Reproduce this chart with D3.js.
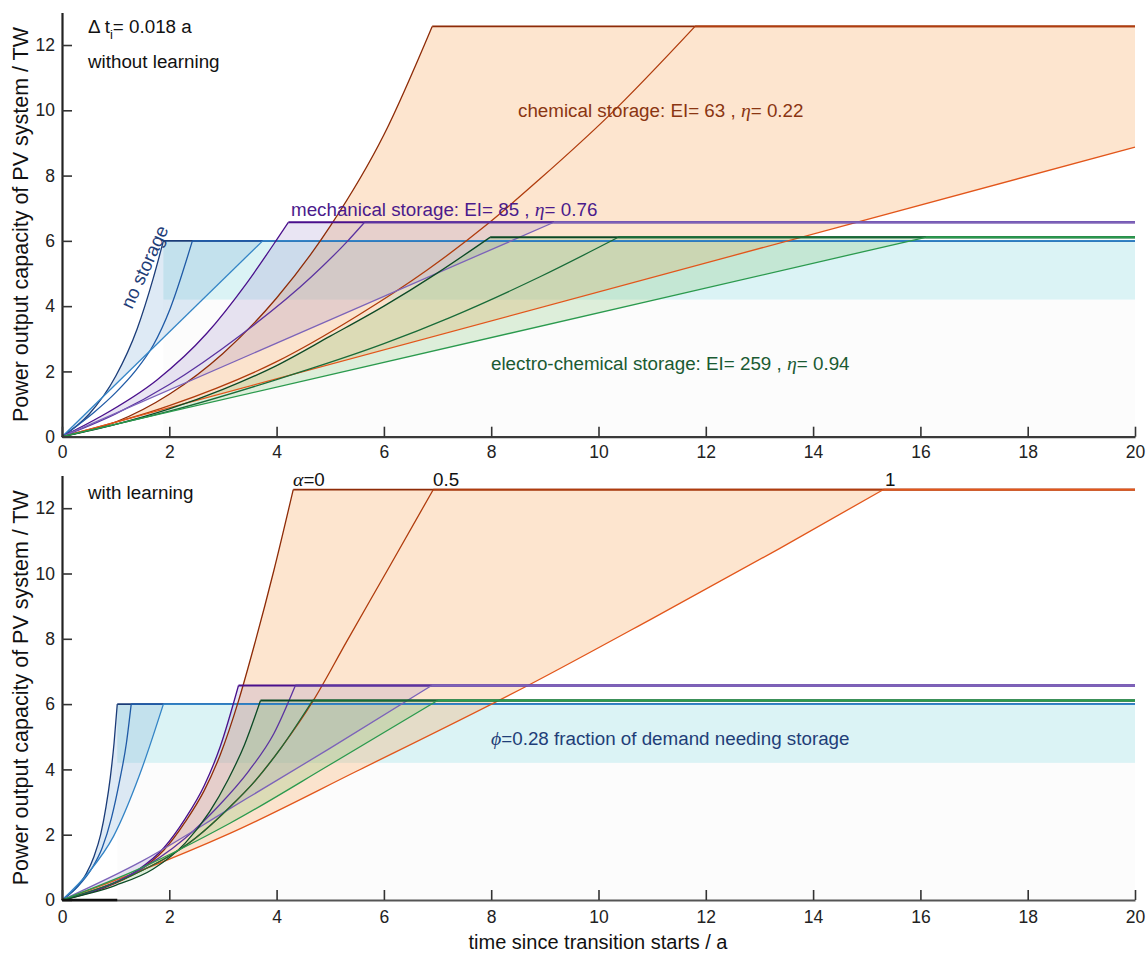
<!DOCTYPE html>
<html><head><meta charset="utf-8">
<script src="https://cdn.jsdelivr.net/npm/d3@7"></script>
<style>
html,body{margin:0;padding:0;background:#fff;}
text{font-family:"Liberation Sans",Arial,sans-serif;}
.greek{font-family:"Liberation Serif","DejaVu Serif",serif;font-style:italic;}
</style></head>
<body><svg id="chart" width="1148" height="955"></svg>
<script>
// ---------- data ----------
const xTicks = [0,2,4,6,8,10,12,14,16,18,20];
const yTicks = [0,2,4,6,8,10,12];
const plateaus = {noStorage:6.0, mechanical:6.57, electro:6.11, chemical:12.57};
const bandLow = 4.2, bandHigh = 6.0;

// top panel: without learning  [time (a), capacity (TW)]
const topNo0   = [[0,0],[0.5,0.68],[1.0,1.85],[1.4,3.3],[1.7,4.85],[1.89,6.0]];
const topNo05  = [[0,0],[0.6,0.75],[1.0,1.35],[1.36,2.0],[1.7,2.8],[2.01,3.9],[2.43,6.0]];
const topNo1   = [[0,0],[3.74,6.0]];
const topMech0 = [[0,0],[0.71,0.61],[1.77,1.74],[2.70,3.17],[3.44,4.7],[4.0,6.03],[4.22,6.57]];
const topMech05= [[0,0],[1.0,0.7],[2.0,1.6],[3.32,3.1],[4.65,4.9],[5.31,5.97],[5.64,6.57]];
const topMech1 = [[0,0],[9.17,6.57]];
const topChem0 = [[0,0],[1,0.45],[2,1.3],[3,2.55],[4,4.25],[5,6.45],[6,9.25],[6.9,12.57]];
const topChem05= [[0,0],[2,0.95],[4,2.3],[5.5,3.7],[6.8,5.1],[7.92,6.5],[8.91,7.9],[10.21,9.86],[11.8,12.57]];
const topChem1 = [[0,0],[20,8.87]];
const topElec0 = [[0,0],[1,0.38],[2,0.85],[3,1.45],[4,2.18],[5,3.08],[6,4.0],[7,5.02],[7.98,6.11]];
const topElec05= [[0,0],[2,0.78],[4,1.75],[6,2.85],[7.23,3.65],[8.91,4.9],[10.37,6.11]];
const topElec1 = [[0,0],[16.1,6.11]];

// bottom panel: with learning
const botNo0   = [[0,0],[0.25,0.35],[0.45,0.8],[0.6,1.35],[0.72,2.0],[0.82,2.85],[0.9,3.75],[0.97,4.8],[1.03,6.0]];
const botNo05  = [[0,0],[0.3,0.42],[0.55,0.95],[0.75,1.6],[0.92,2.5],[1.08,3.7],[1.2,4.8],[1.29,6.0]];
const botNo1   = [[0,0],[0.5,0.85],[0.96,1.95],[1.45,3.85],[1.89,6.0]];
const botMech0 = [[0,0],[0.8,0.4],[1.4,0.9],[1.9,1.6],[2.3,2.5],[2.65,3.5],[2.95,4.7],[3.29,6.57]];
const botMech05= [[0,0],[1.2,0.7],[2.3,1.9],[2.9,2.85],[3.48,3.95],[3.95,5.1],[4.35,6.57]];
const botMech1 = [[0,0],[1.5,1.2],[3.13,2.8],[5.0,4.65],[6.89,6.57]];
const botChem0 = [[0,0],[0.8,0.38],[1.4,0.86],[1.9,1.53],[2.3,2.4],[2.65,3.35],[2.95,4.45],[3.29,6.1],[3.6,7.9],[3.95,10.1],[4.31,12.57]];
const botChem05= [[0,0],[1.3,0.75],[2.49,1.9],[3.13,2.85],[3.6,3.65],[4.1,4.7],[4.68,6.1],[5.3,7.9],[6.1,10.2],[6.92,12.57]];
const botChem1 = [[0,0],[1.5,0.92],[3.13,2.04],[5.5,3.95],[8.72,6.6],[11.0,8.62],[13.38,10.77],[15.31,12.57]];
const botElec0 = [[0,0],[1.0,0.45],[1.7,0.95],[2.3,1.75],[2.75,2.7],[3.1,3.7],[3.4,4.75],[3.7,6.11]];
const botElec05= [[0,0],[1.3,0.75],[2.49,1.9],[3.13,2.85],[3.6,3.65],[4.1,4.7],[4.67,6.11]];
const botElec1 = [[0,0],[1.5,1.0],[3.13,2.35],[5.0,4.15],[7.0,6.11]];

// ---------- styles ----------
const lineColors = {
  noStorage:["#1b3c78","#1f5aa6","#3384c6"],
  mechanical:["#4a108c","#5b33a0","#7c63b9"],
  chemical:["#8e2b07","#b03c0d","#e2561b"],
  electro:["#0c4a26","#186b38","#2b9a4e"]
};
const fillStyle = {
  noStorage:["#7aaad8",0.25],
  chemical:["#f8a85f",0.3],
  mechanical:["#917dc3",0.2],
  electro:["#7fc373",0.25]
};

const svg = d3.select("#chart");
const x = d3.scaleLinear().domain([0,20]).range([62,1135]);
const tickFont = 17.5;

function panel(cfg){
  const y = d3.scaleLinear().domain([0,13]).range([cfg.y0, cfg.y0-13*cfg.k]);
  const g = svg.append("g");
  const line = d3.line().x(d=>x(d[0])).y(d=>y(d[1])).curve(d3.curveMonotoneX);
  const ns = cfg.groups.noStorage[0];
  const t0 = ns[ns.length-1][0];
  g.append("rect").attr("x",x(t0)).attr("y",y(bandLow)).attr("width",x(20)-x(t0)).attr("height",y(0)-y(bandLow)).attr("fill","#fcfcfc");
  g.append("rect").attr("x",x(t0)).attr("y",y(bandHigh)).attr("width",x(20)-x(t0)).attr("height",y(bandLow)-y(bandHigh)).attr("fill","#dbf3f5");
  const order = ["noStorage","chemical","mechanical","electro"];
  order.forEach(k=>{
    const c = cfg.groups[k], p = plateaus[k];
    const up = c[0], lo = c[2];
    let d = line(up) + `L${x(20)},${y(p)}`;
    const lr = line(lo.slice().reverse()).replace(/^M/,"L");
    d += lr + "Z";
    g.append("path").attr("d",d).attr("fill",fillStyle[k][0]).attr("fill-opacity",fillStyle[k][1]).attr("stroke","none");
  });
  order.forEach(k=>{
    const c = cfg.groups[k], p = plateaus[k];
    c.forEach((pts,i)=>{
      const last = pts[pts.length-1];
      g.append("path").attr("d",line(pts)).attr("fill","none").attr("stroke",lineColors[k][i]).attr("stroke-width",1.3);
      if(last[0] < 20){
        g.append("path").attr("d",`M${x(last[0])},${y(p)}L${x(20)},${y(p)}`)
          .attr("fill","none").attr("stroke",lineColors[k][i]).attr("stroke-width",1.8);
      }
    });
  });
  const ya = g.append("g").attr("transform",`translate(${x(0)},0)`)
    .call(d3.axisLeft(y).tickValues(yTicks).tickSizeInner(-10).tickSizeOuter(0).tickPadding(7).tickFormat(d3.format("d")));
  ya.select(".domain").attr("stroke","#222").attr("stroke-width",2.2);
  ya.selectAll(".tick line").attr("stroke","#333").attr("stroke-width",1.6);
  ya.selectAll(".tick text").attr("font-size",tickFont).attr("fill","#222").attr("font-family","'Liberation Sans',Arial,sans-serif");
  const xa = g.append("g").attr("transform",`translate(0,${y(0)})`)
    .call(d3.axisBottom(x).tickValues(xTicks).tickSizeInner(-10).tickSizeOuter(0).tickPadding(cfg.xpad).tickFormat(d3.format("d")));
  xa.select(".domain").attr("stroke",cfg.axisColor).attr("stroke-width",2.2);
  xa.selectAll(".tick line").attr("stroke","#333").attr("stroke-width",1.6);
  xa.selectAll(".tick text").attr("font-size",tickFont).attr("fill","#222").attr("font-family","'Liberation Sans',Arial,sans-serif");
  if(cfg.darkStart){
    g.append("line").attr("x1",x(0)).attr("x2",x(t0)).attr("y1",y(0)).attr("y2",y(0)).attr("stroke","#111").attr("stroke-width",2.4);
  }
  g.append("text").attr("transform",`translate(27.5,${(y(0)+y(13))/2}) rotate(-90)`)
    .attr("text-anchor","middle").attr("font-size",21.5).attr("fill","#111")
    .text("Power output capacity of PV system / TW");
  return {g,y};
}

const topPanel = panel({y0:436.7,k:32.64,xpad:9,axisColor:"#3a3a3a",darkStart:false,groups:{
  noStorage:[topNo0,topNo05,topNo1], mechanical:[topMech0,topMech05,topMech1],
  chemical:[topChem0,topChem05,topChem1], electro:[topElec0,topElec05,topElec1]}});
const botPanel = panel({y0:900,k:32.65,xpad:11,axisColor:"#555",darkStart:true,groups:{
  noStorage:[botNo0,botNo05,botNo1], mechanical:[botMech0,botMech05,botMech1],
  chemical:[botChem0,botChem05,botChem1], electro:[botElec0,botElec05,botElec1]}});

// ---------- annotations ----------
const fs = 18.8;
const t1 = svg.append("text").attr("x",88).attr("y",33).attr("font-size",fs).attr("fill","#111");
t1.append("tspan").text("Δ t");
t1.append("tspan").attr("dy",6).attr("font-size",13).text("i");
t1.append("tspan").attr("dy",-6).text("= 0.018 a");
svg.append("text").attr("x",88).attr("y",68).attr("font-size",fs).attr("fill","#111").text("without learning");
svg.append("text").attr("x",88).attr("y",499).attr("font-size",fs).attr("fill","#111").text("with learning");

function label(xp,yp,color,before,greek,after){
  const t = svg.append("text").attr("x",xp).attr("y",yp).attr("font-size",fs).attr("fill",color);
  if(before) t.append("tspan").text(before);
  t.append("tspan").attr("class","greek").attr("font-size",fs+1).text(greek);
  t.append("tspan").text(after);
}
label(518,117,"#8a3512","chemical storage: EI= 63 , ","η","= 0.22");
label(291,216,"#4b1b8c","mechanical storage: EI= 85 , ","η","= 0.76");
label(491,370,"#1a5a32","electro-chemical storage: EI= 259 , ","η","= 0.94");
label(491,745,"#1f3e78","","ϕ","=0.28 fraction of demand needing storage");

svg.append("text").attr("transform","translate(132,310) rotate(-65.5)").attr("font-size",fs).attr("fill","#1f3e78").text("no storage");

const a0 = svg.append("text").attr("x",293).attr("y",486).attr("font-size",fs).attr("fill","#111");
a0.append("tspan").attr("class","greek").attr("font-size",fs+1).text("α");
a0.append("tspan").text("=0");
svg.append("text").attr("x",433).attr("y",486).attr("font-size",fs).attr("fill","#111").text("0.5");
svg.append("text").attr("x",885).attr("y",486).attr("font-size",fs).attr("fill","#111").text("1");

svg.append("text").attr("x",598).attr("y",949).attr("text-anchor","middle").attr("font-size",20).attr("fill","#111").text("time since transition starts / a");
</script></body></html>
